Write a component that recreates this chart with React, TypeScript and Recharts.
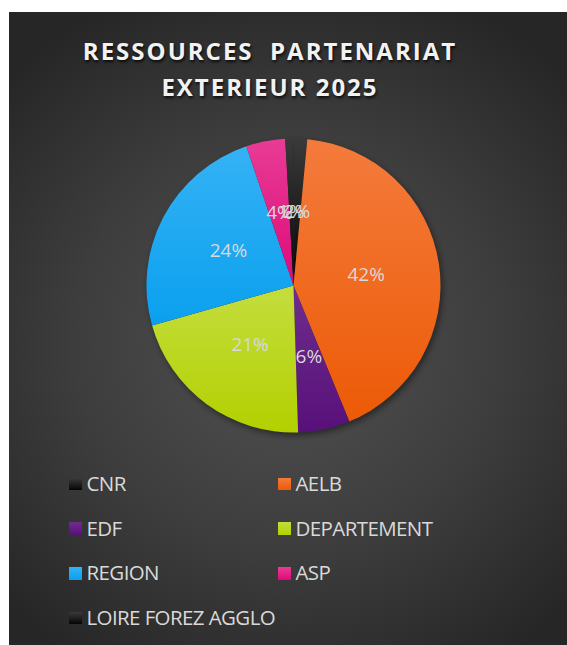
import React from 'react';
import { PieChart, Pie, Cell, Legend } from 'recharts';

const categories = ['CNR', 'AELB', 'EDF', 'DEPARTEMENT', 'REGION', 'ASP', 'LOIRE FOREZ AGGLO'];
const shares = [1.5, 42.3, 5.7, 21.1, 24.2, 4.3, 0.9];
const colorsTop = ['#3a3a3a', '#F47B3C', '#6E2E8C', '#C4DD3E', '#35B2F5', '#E83C95', '#3a3a3a'];
const colorsBottom = ['#050505', '#EC5A06', '#58107A', '#B3D000', '#0AA0EE', '#DE0A7A', '#050505'];
const titleLines = ['RESSOURCES  PARTENARIAT', 'EXTERIEUR 2025'];

const data = categories.map((name, i) => ({ name, value: shares[i] }));

const W = 558;
const H = 633;
const RADIAN = Math.PI / 180;

const renderLabel = (props: any) => {
  const { cx, cy, midAngle, outerRadius, percent } = props;
  const r = outerRadius * 0.5;
  const x = cx + r * Math.cos(-midAngle * RADIAN);
  const y = cy + r * Math.sin(-midAngle * RADIAN);
  return (
    <text
      x={x}
      y={y - 1}
      fill="#d9d9d9"
      textAnchor="middle"
      dominantBaseline="central"
      fontFamily="'Open Sans', sans-serif"
      fontSize={19}
    >
      {`${Math.round(percent * 100)}%`}
    </text>
  );
};

const renderLegend = (props: any) => {
  const { payload } = props;
  return (
    <div style={{ position: 'relative', width: W, height: 180 }}>
      {payload.map((entry: any) => {
        const i = categories.indexOf(entry.value);
        const col = i % 2;
        const row = Math.floor(i / 2);
        const left = col === 0 ? 60 : 269;
        const top = row * 44.7;
        return (
          <div
            key={entry.value}
            style={{
              position: 'absolute',
              left,
              top,
              display: 'flex',
              alignItems: 'center',
              height: 24,
              whiteSpace: 'nowrap',
            }}
          >
            <div
              style={{
                width: 12.5,
                height: 12.5,
                background: `linear-gradient(to bottom, ${colorsTop[i]}, ${colorsBottom[i]})`,
                marginRight: 5,
                marginTop: 2,
              }}
            />
            <span
              style={{
                color: '#d9d9d9',
                fontFamily: "'Open Sans', sans-serif",
                fontSize: 20.5,
                letterSpacing: -0.6,
              }}
            >
              {entry.value}
            </span>
          </div>
        );
      })}
    </div>
  );
};

export default function App() {
  return (
    <div
      style={{
        position: 'absolute',
        left: 9,
        top: 12,
        width: W,
        height: H,
        background: 'radial-gradient(ellipse 70% 60% at 50% 52%, #525252 0%, #3d3d3d 55%, #262626 100%)',
        overflow: 'hidden',
      }}
    >
      <style>{`.recharts-pie { filter: drop-shadow(2px 3px 3px rgba(0,0,0,0.45)); }`}</style>
      <div
        style={{
          position: 'absolute',
          left: -18,
          top: 21,
          width: W,
          textAlign: 'center',
          color: '#f2f2f2',
          fontFamily: "'Open Sans', sans-serif",
          fontWeight: 700,
          fontSize: 24,
          letterSpacing: 2.0,
          lineHeight: '36px',
          textShadow: '1px 2px 3px rgba(0,0,0,0.8)',
          whiteSpace: 'pre',
        }}
      >
        {titleLines.map((t) => (
          <div key={t}>{t}</div>
        ))}
      </div>
      <PieChart width={W} height={H} margin={{ top: 0, right: 0, bottom: 0, left: 0 }} style={{ position: 'absolute', left: 0, top: 0 }}>
        <defs>
          {categories.map((c, i) => (
            <linearGradient key={c} id={`g${i}`} x1="0" y1="0" x2="0" y2="1">
              <stop offset="0%" stopColor={colorsTop[i]} />
              <stop offset="100%" stopColor={colorsBottom[i]} />
            </linearGradient>
          ))}
        </defs>
        <Pie
          data={data}
          dataKey="value"
          nameKey="name"
          cx={284.5}
          cy={273.5}
          outerRadius={147}
          startAngle={90}
          endAngle={-270}
          stroke="none"
          label={renderLabel}
          labelLine={false}
          isAnimationActive={false}
        >
          {data.map((d, i) => (
            <Cell key={d.name} fill={`url(#g${i})`} />
          ))}
        </Pie>
        <Legend
          content={renderLegend}
          itemSorter={null as any}
          wrapperStyle={{ position: 'absolute', left: 0, top: 459, width: W }}
        />
      </PieChart>
    </div>
  );
}
